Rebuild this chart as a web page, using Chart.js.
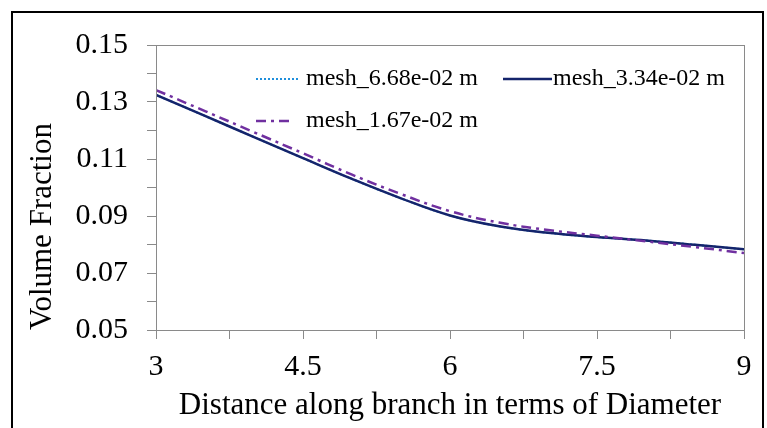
<!DOCTYPE html>
<html>
<head>
<meta charset="utf-8">
<script src="https://cdn.jsdelivr.net/npm/chart.js@4"></script>
<style>
  html, body { margin: 0; padding: 0; background: #fff; overflow: hidden; }
  #wrap { position: relative; width: 767px; height: 428px; }
  #frame { position: absolute; left: 11px; top: 11px; width: 749px; height: 480px; border: 2px solid #000; }
  canvas { position: absolute; left: 0; top: 0; }
</style>
</head>
<body>
<div id="wrap">
  <div id="frame"></div>
  <canvas id="vf_chart" width="767" height="428"></canvas>
</div>
<script>
// distance along branch (in diameters)
const distance = [3, 3.5, 4, 4.5, 5, 5.5, 6, 6.5, 7, 7.5, 8, 8.5, 9];

// volume fraction per mesh size
const mesh668 = [0.1325, 0.1251, 0.1177, 0.1103, 0.1030, 0.0962, 0.0902, 0.0864, 0.0841, 0.0826, 0.0814, 0.0799, 0.0783];
const mesh334 = [0.1325, 0.1251, 0.1177, 0.1103, 0.1030, 0.0962, 0.0902, 0.0864, 0.0841, 0.0826, 0.0814, 0.0799, 0.0783];
const mesh167 = [0.1342, 0.1268, 0.1194, 0.1120, 0.1045, 0.0977, 0.0917, 0.0877, 0.0851, 0.0831, 0.0811, 0.0791, 0.0770];

const seriesNames = ["mesh_6.68e-02 m", "mesh_3.34e-02 m", "mesh_1.67e-02 m"];
const xTitle = "Distance along branch in terms of Diameter";
const yTitle = "Volume Fraction";

const serif = "'Liberation Serif', 'Times New Roman', serif";
const axisGray = "#8a8a8a";

const toPoints = (values) => values.map((v, i) => ({ x: distance[i], y: v }));

// legend drawn inside the plot area, two columns
const legendSlots = [
  { dx: 100, dy: 34, len: 42, gap: 8 },
  { dx: 347, dy: 34, len: 49, gap: 1 },
  { dx: 100, dy: 76, len: 38, gap: 12 },
];

const insideLegend = {
  id: "insideLegend",
  afterDraw(chart) {
    const { ctx, chartArea } = chart;
    ctx.save();
    // plot box
    ctx.strokeStyle = axisGray;
    ctx.lineWidth = 1;
    ctx.strokeRect(chartArea.left + 0.5, chartArea.top + 0.5, chartArea.right - chartArea.left, chartArea.bottom - chartArea.top);

    ctx.font = "24px " + serif;
    ctx.textBaseline = "middle";
    chart.data.datasets.forEach((ds, i) => {
      const slot = legendSlots[i];
      const x = chartArea.left + slot.dx;
      const y = chartArea.top + slot.dy;
      ctx.beginPath();
      ctx.setLineDash(ds.borderDash || []);
      ctx.strokeStyle = ds.borderColor;
      ctx.lineWidth = ds.borderWidth;
      ctx.moveTo(x, y);
      ctx.lineTo(x + slot.len, y);
      ctx.stroke();
      ctx.setLineDash([]);
      ctx.fillStyle = "#000";
      ctx.fillText(ds.label, x + slot.len + slot.gap, y);
    });
    ctx.restore();
  },
};

const cxt = document.getElementById("vf_chart").getContext("2d");

new Chart(cxt, {
  type: "line",
  data: {
    datasets: [
      {
        label: seriesNames[0],
        data: toPoints(mesh668),
        borderColor: "#1f8fdc",
        borderWidth: 2,
        borderDash: [2, 2],
        order: 3,
      },
      {
        label: seriesNames[1],
        data: toPoints(mesh334),
        borderColor: "#14246b",
        borderWidth: 2.5,
        order: 2,
      },
      {
        label: seriesNames[2],
        data: toPoints(mesh167),
        borderColor: "#7030a0",
        borderWidth: 2.5,
        borderDash: [10, 5, 3, 5],
        order: 1,
      },
    ],
  },
  options: {
    responsive: false,
    animation: false,
    devicePixelRatio: 1,
    elements: {
      point: { radius: 0 },
      line: { tension: 0.4, fill: false },
    },
    layout: {
      padding: { top: 45, right: 23, left: 0, bottom: 0 },
    },
    plugins: {
      legend: { display: false },
      tooltip: { enabled: false },
    },
    scales: {
      x: {
        type: "linear",
        min: 3,
        max: 9,
        afterFit: (scale) => { scale.height = 98; },
        ticks: {
          stepSize: 0.75,
          autoSkip: false,
          maxRotation: 0,
          padding: 10,
          color: "#000",
          font: { family: serif, size: 30 },
          callback: (value, index) => (index % 2 === 0 ? String(value) : ""),
        },
        grid: { drawOnChartArea: false, tickLength: 9, color: axisGray },
        border: { color: axisGray, width: 1 },
        title: {
          display: true,
          text: xTitle,
          color: "#000",
          font: { family: serif, size: 31 },
          padding: { top: 0, bottom: 4 },
        },
      },
      y: {
        min: 0.05,
        max: 0.15,
        afterFit: (scale) => { scale.width = 156; },
        ticks: {
          stepSize: 0.01,
          autoSkip: false,
          padding: 19,
          color: "#000",
          font: { family: serif, size: 30 },
          callback: (value, index) => (index % 2 === 0 ? value.toFixed(2) : ""),
        },
        grid: { drawOnChartArea: false, tickLength: 9, color: axisGray },
        border: { color: axisGray, width: 1 },
        title: {
          display: true,
          text: yTitle,
          align: "start",
          color: "#000",
          font: { family: serif, size: 31 },
          padding: { top: 24, bottom: 0 },
        },
      },
    },
  },
  plugins: [insideLegend],
});
</script>
</body>
</html>
